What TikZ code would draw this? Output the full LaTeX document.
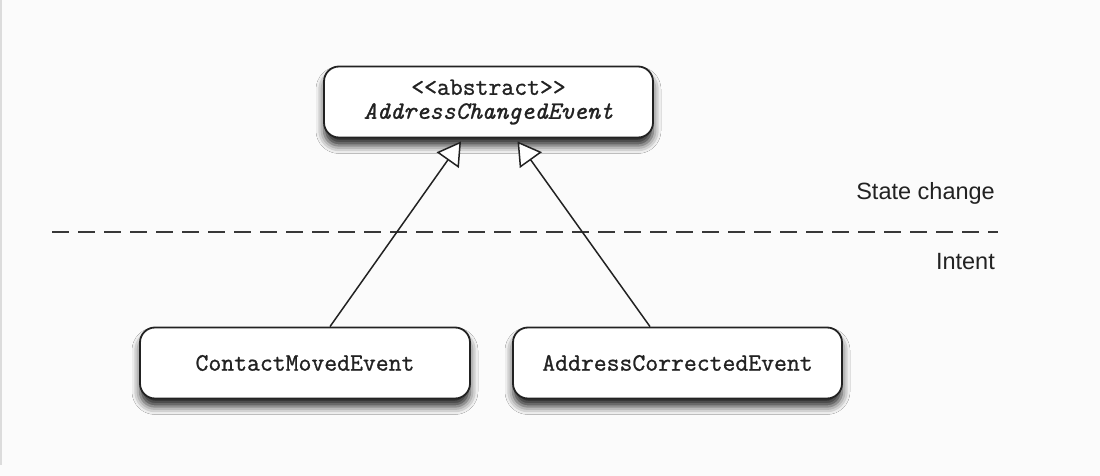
\documentclass[tikz,border=0pt]{standalone}
\usepackage{fontspec}
\setmainfont{Liberation Sans}
\newfontfamily\boxfont{Latin Modern Mono}[FakeBold=1]
\usetikzlibrary{arrows.meta,calc,shadows.blur}
\definecolor{bg}{HTML}{FBFBFB}
\definecolor{ink}{HTML}{222222}
\definecolor{strip}{HTML}{DCDCDC}
\tikzset{
  cls/.style={draw=ink, line width=1.8pt, fill=white, rounded corners=15pt,
    minimum height=71pt, text=ink, align=center,
    font=\boxfont\fontsize{25}{25}\selectfont,
    blur shadow={shadow xshift=0pt, shadow yshift=-8pt, shadow blur radius=8pt, shadow opacity=85}},
  gen/.style={draw=ink, line width=1.5pt,
    -{Triangle[fill=white, length=23pt, width=27pt, line width=1.5pt]}},
  lbl/.style={text=ink, font=\fontsize{23.5}{26}\selectfont, anchor=east, inner sep=0pt},
  sep/.style={draw=ink!90, line width=2pt, dash pattern=on 17pt off 9pt}
}
\begin{document}
\begin{tikzpicture}[x=1pt,y=-1pt]
  \fill[bg] (0,0) rectangle (1100,476);
  \useasboundingbox (0,0) rectangle (1100,476);
  \fill[strip] (0,0) rectangle (2,465);

  \node[cls, minimum width=329pt] (top) at (488.5,102)
    {{<}{<}abstract{>}{>}\\[-1pt]\textit{AddressChangedEvent}};
  \node[cls, minimum width=330pt] (cm) at (305,363) {ContactMovedEvent};
  \node[cls, minimum width=329pt] (ac) at (677.5,363) {AddressCorrectedEvent};

  \coordinate (dl) at (52,232);
  \coordinate (dr) at (998,232);
  \draw[sep] (dl) -- (dr);

  \node[lbl] (sc) at (995,193) {State change};
  \node[lbl] (it) at (995,262) {Intent};

  \draw[gen] ($(cm.north)+(25,0)$) -- ($(top.south)+(-27.5,3)$);
  \draw[gen] ($(ac.north)+(-27.5,0)$) -- ($(top.south)+(29,3)$);
\end{tikzpicture}
\end{document}
